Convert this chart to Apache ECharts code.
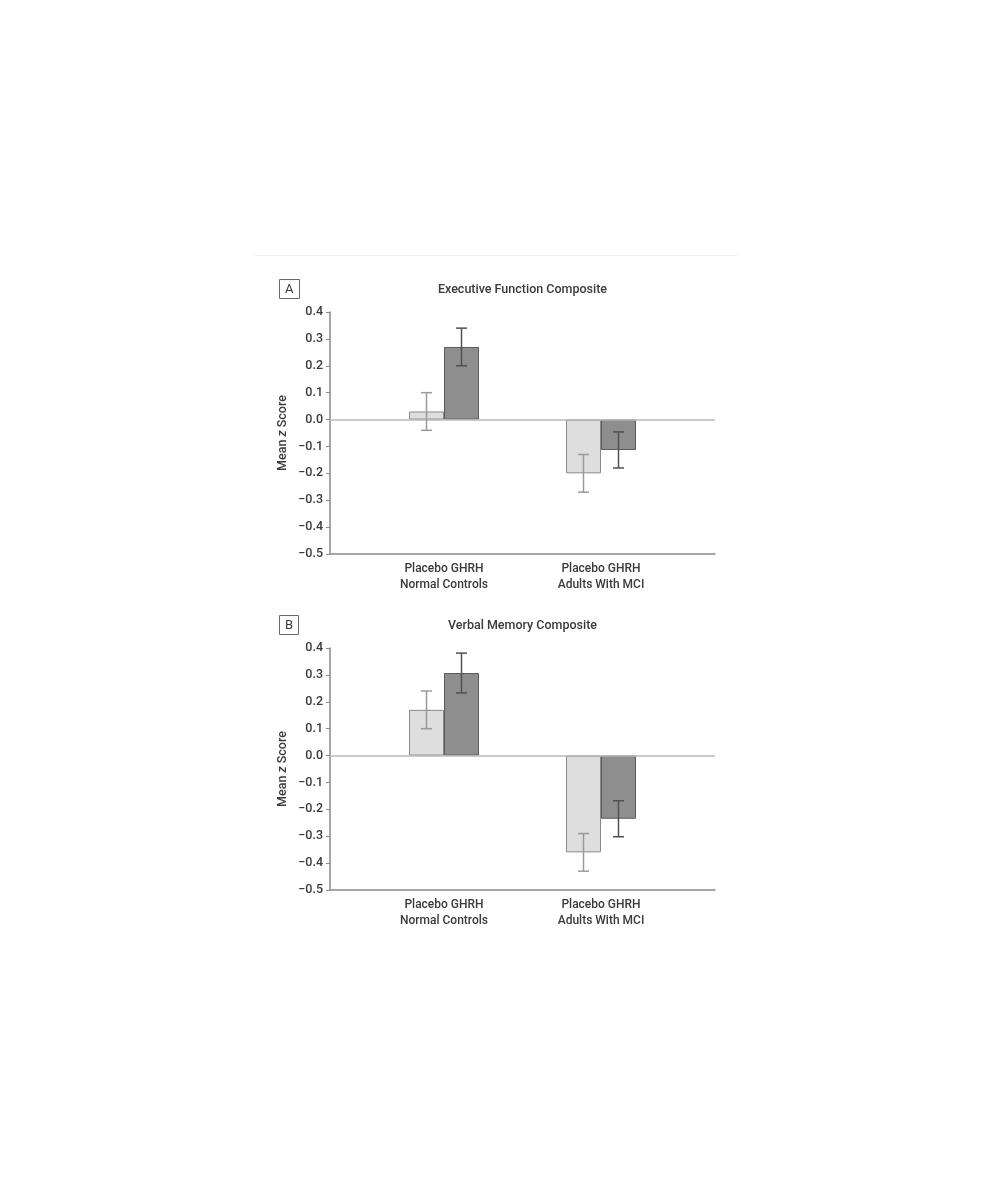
<!DOCTYPE html>
<html>
<head>
<meta charset="utf-8">
<script src="https://cdn.jsdelivr.net/npm/echarts@6/dist/echarts.min.js"></script>
<style>
html,body{margin:0;padding:0;background:#fff;}
#chart{width:993px;height:1200px;}
</style>
</head>
<body>
<div id="chart"></div>
<script>
// ---- data ----
const categories = ['Placebo GHRH\nNormal Controls', 'Placebo GHRH\nAdults With MCI'];
const seriesNames = ['Placebo', 'GHRH'];
const panelTitles = ['Executive Function Composite', 'Verbal Memory Composite'];
const panelLetters = ['A', 'B'];
const execPlacebo = [0.03, -0.20];
const execPlaceboErr = [0.07, 0.07];
const execGhrh = [0.27, -0.113];
const execGhrhErr = [0.07, 0.067];
const memPlacebo = [0.17, -0.36];
const memPlaceboErr = [0.07, 0.07];
const memGhrh = [0.307, -0.235];
const memGhrhErr = [0.074, 0.067];
const yMin = -0.5, yMax = 0.4, yInterval = 0.1;

const FONT = "Roboto, 'Liberation Sans', sans-serif";
const TXT = '#3a3a3a';
const BAR_W = 35;
const colors = {
  Placebo: { fill: '#dedede', border: '#8a8a8a', err: '#9a9a9a' },
  GHRH: { fill: '#8e8e8e', border: '#5a5a5a', err: '#505050' }
};

const panels = [
  { top: 312, values: [execPlacebo, execGhrh], errs: [execPlaceboErr, execGhrhErr] },
  { top: 648, values: [memPlacebo, memGhrh], errs: [memPlaceboErr, memGhrhErr] }
];
const GRID_H = 242;

const grid = [], xAxis = [], yAxis = [], series = [], title = [];

panels.forEach((p, pi) => {
  // frame grid (axes)
  const fg = grid.length;
  grid.push({ left: 330, width: 385, top: p.top, height: GRID_H });
  xAxis.push({
    gridIndex: fg, type: 'value', min: 0, max: 1,
    axisLine: { onZero: false, lineStyle: { color: '#8a8a8a', width: 1.5 } },
    axisTick: { show: false }, axisLabel: { show: false }, splitLine: { show: false }
  });
  yAxis.push({
    gridIndex: fg, type: 'value', min: yMin, max: yMax, interval: yInterval,
    name: '{a|Mean }{i|z}{a| Score}', nameLocation: 'middle', nameGap: 41, nameRotate: 90,
    nameTextStyle: { rich: {
      a: { fontFamily: FONT, fontSize: 12.5, fontWeight: 500, color: TXT },
      i: { fontFamily: FONT, fontSize: 12.5, fontWeight: 500, color: TXT, fontStyle: 'italic' } } },
    axisLine: { show: true, lineStyle: { color: '#8a8a8a', width: 1.5 } },
    axisTick: { show: true, length: 4, lineStyle: { color: '#8a8a8a' } },
    axisLabel: {
      fontFamily: FONT, fontSize: 12.5, fontWeight: 500, color: TXT, margin: 7,
      formatter: v => { const s = (Math.round(v * 10) / 10).toFixed(1); return s.replace('-', '\u2212'); }
    },
    splitLine: { show: false }
  });
  series.push({
    type: 'line', xAxisIndex: fg, yAxisIndex: fg, data: [], silent: true,
    markLine: {
      symbol: 'none', silent: true, label: { show: false },
      lineStyle: { color: '#b8b8b8', width: 1.5, type: 'solid' },
      data: [{ yAxis: 0 }]
    }
  });

  // bar grid
  const bg = grid.length;
  grid.push({ left: 365.5, width: 314, top: p.top, height: GRID_H });
  xAxis.push({
    gridIndex: bg, type: 'category', data: categories,
    axisLine: { show: false }, axisTick: { show: false },
    axisLabel: { fontFamily: FONT, fontSize: 12, fontWeight: 500, color: TXT, lineHeight: 16, margin: 7 }
  });
  yAxis.push({ gridIndex: bg, type: 'value', min: yMin, max: yMax, interval: yInterval, show: false });

  seriesNames.forEach((name, si) => {
    const c = colors[name];
    series.push({
      name, type: 'bar', xAxisIndex: bg, yAxisIndex: bg,
      barWidth: BAR_W, barGap: 0,
      data: p.values[si],
      itemStyle: { color: c.fill, borderColor: c.border, borderWidth: 1 },
      z: 2
    });
  });
  seriesNames.forEach((name, si) => {
    const c = colors[name];
    const off = si === 0 ? -BAR_W / 2 : BAR_W / 2;
    series.push({
      name: name + ' SE', type: 'custom', xAxisIndex: bg, yAxisIndex: bg,
      data: p.values[si].map((v, i) => [i, v - p.errs[si][i], v + p.errs[si][i]]),
      encode: { x: 0, y: [1, 2] },
      z: 5,
      renderItem: (params, api) => {
        const lo = api.coord([api.value(0), api.value(1)]);
        const hi = api.coord([api.value(0), api.value(2)]);
        const x = lo[0] + off, cap = 5.5;
        const st = { stroke: c.err, lineWidth: 1.5 };
        return { type: 'group', children: [
          { type: 'line', shape: { x1: x, y1: lo[1], x2: x, y2: hi[1] }, style: st },
          { type: 'line', shape: { x1: x - cap, y1: lo[1], x2: x + cap, y2: lo[1] }, style: st },
          { type: 'line', shape: { x1: x - cap, y1: hi[1], x2: x + cap, y2: hi[1] }, style: st }
        ] };
      }
    });
  });

  title.push({
    text: panelTitles[pi], left: 522.5, textAlign: 'center', top: p.top - 29, padding: 0,
    textStyle: { fontFamily: FONT, fontSize: 12.5, fontWeight: 500, color: TXT }
  });
  title.push({
    text: panelLetters[pi], left: 279, top: p.top - 33, padding: [4, 6, 3, 6],
    borderColor: '#6a6a6a', borderWidth: 1,
    textStyle: { fontFamily: FONT, fontSize: 13, fontWeight: 'normal', color: TXT }
  });
});

const chart = echarts.init(document.getElementById('chart'), null, { renderer: 'canvas' });
chart.setOption({
  animation: false,
  backgroundColor: '#ffffff',
  title, grid, xAxis, yAxis, series,
  graphic: [
    { type: 'line', shape: { x1: 255, y1: 255.5, x2: 737, y2: 255.5 }, style: { stroke: '#ececec', lineWidth: 1 } }
  ]
});
</script>
</body>
</html>
